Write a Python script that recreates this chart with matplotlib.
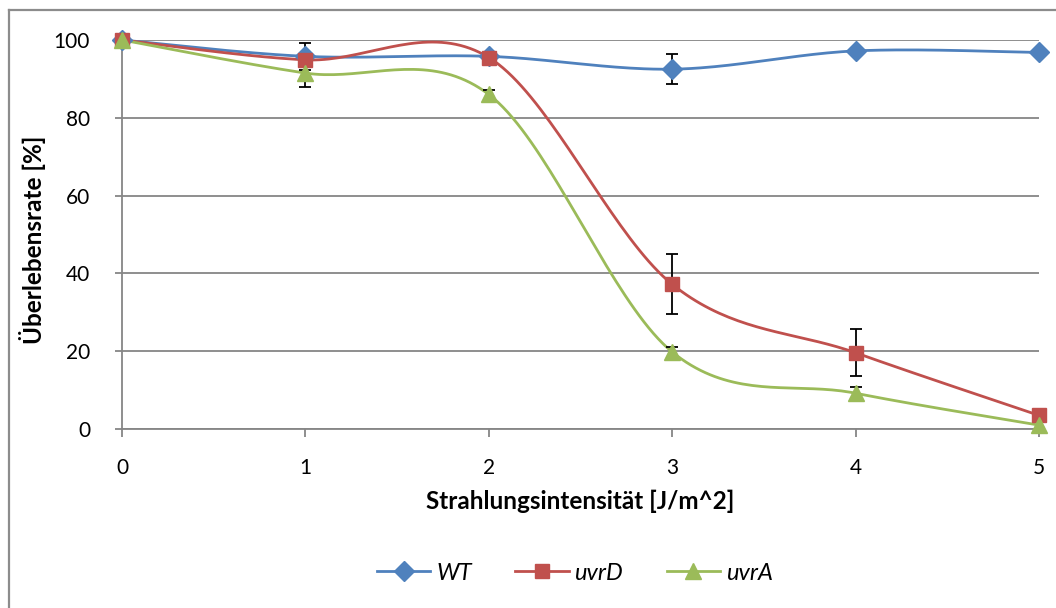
import numpy as np
import matplotlib
matplotlib.use("Agg")
import matplotlib.pyplot as plt
from matplotlib.lines import Line2D

plt.rcParams['font.family'] = ['Lato', 'DejaVu Sans']

# Data
dose = [0, 1, 2, 3, 4, 5]
wt = [100, 95.8, 95.8, 92.5, 97.2, 96.8]
wt_err = [0, 3.4, 0, 3.9, 0, 0]
uvrd = [100, 94.9, 95.5, 37.2, 19.6, 3.5]
uvrd_err = [0, 0, 0, 7.7, 6.0, 0]
uvra = [100, 91.5, 86.0, 19.8, 9.2, 1.0]
uvra_err = [0, 3.6, 1.2, 1.3, 1.7, 0]

series_names = ["WT", "uvrD", "uvrA"]
colors = ["#4F81BD", "#C0504D", "#9BBB59"]
markers = ["D", "s", "^"]
msizes = [10, 10.5, 11.5]

x_label = "Strahlungsintensität [J/m^2]"
y_label = "Überlebensrate [%]"


def smooth(xs, ys, n=40):
    """Catmull-Rom style Bezier smoothing through every point."""
    xs = np.asarray(xs, float)
    ys = np.asarray(ys, float)
    px = np.concatenate([[xs[0]], xs, [xs[-1]]])
    py = np.concatenate([[ys[0]], ys, [ys[-1]]])
    outx, outy = [], []
    t = np.linspace(0, 1, n)
    for i in range(1, len(px) - 2):
        p0 = np.array([px[i], py[i]])
        p3 = np.array([px[i + 1], py[i + 1]])
        c1 = p0 + (np.array([px[i + 1], py[i + 1]]) - np.array([px[i - 1], py[i - 1]])) / 6
        c2 = p3 - (np.array([px[i + 2], py[i + 2]]) - np.array([px[i], py[i]])) / 6
        b = ((1 - t) ** 3)[:, None] * p0 + (3 * (1 - t) ** 2 * t)[:, None] * c1 \
            + (3 * (1 - t) * t ** 2)[:, None] * c2 + (t ** 3)[:, None] * p3
        outx.extend(b[:, 0])
        outy.extend(b[:, 1])
    return np.array(outx), np.array(outy)


W, H = 1056, 608
fig = plt.figure(figsize=(W / 100, H / 100), dpi=100)
ax = fig.add_axes([122 / W, 1 - 429 / H, 917 / W, 389 / H])

grid_c = "#868686"
ax.set_xlim(0, 5)
ax.set_ylim(0, 100)
ax.set_yticks([0, 20, 40, 60, 80, 100])
ax.set_xticks(dose)
ax.yaxis.grid(True, color=grid_c, linewidth=1.3)
ax.set_axisbelow(True)
for s in ["top", "right"]:
    ax.spines[s].set_visible(False)
for s in ["left", "bottom"]:
    ax.spines[s].set_color(grid_c)
    ax.spines[s].set_linewidth(1.3)
ax.tick_params(axis="both", colors=grid_c, labelcolor="black", labelsize=15,
               direction="out", width=1.3)
ax.tick_params(axis="y", pad=18, length=5)
ax.tick_params(axis="x", pad=15, length=6)

all_vals = [wt, uvrd, uvra]
all_errs = [wt_err, uvrd_err, uvra_err]
handles = []
for name, vals, errs, c, m, ms in zip(series_names, all_vals, all_errs, colors, markers, msizes):
    sx, sy = smooth(dose, vals)
    ax.plot(sx, sy, color=c, linewidth=2, clip_on=False, zorder=3,
            solid_capstyle="round")
    idx = [i for i, e in enumerate(errs) if e > 0]
    ax.errorbar([dose[i] for i in idx], [vals[i] for i in idx],
                yerr=[errs[i] for i in idx], fmt="none", ecolor="black",
                elinewidth=1.3, capsize=4, capthick=1.3, zorder=4, clip_on=False)
    ax.plot(dose, vals, linestyle="none", marker=m, markersize=ms, color=c,
            markeredgecolor=c, clip_on=False, zorder=5)
    handles.append(Line2D([], [], color=c, linewidth=2, marker=m, markersize=ms,
                          markeredgecolor=c))

# Axis titles
fig.text(580 / W, 1 - 501 / H, x_label, fontsize=17.5, fontweight="bold",
         ha="center", va="center")
fig.text(33 / W, 1 - 240 / H, y_label, fontsize=17.5, fontweight="bold",
         ha="center", va="center", rotation=90)

leg = fig.legend(handles, series_names, loc="center", ncol=3, frameon=False,
                 bbox_to_anchor=(575 / W, 1 - 573 / H), handlelength=2.25,
                 columnspacing=1.85, handletextpad=0.25,
                 prop={"size": 17, "style": "italic"})

# Chart-area border (left and top edges)
fig.add_artist(Line2D([9 / W, 9 / W], [0, 1 - 10 / H], color="#8c8c8c",
                      linewidth=1.6, transform=fig.transFigure))
fig.add_artist(Line2D([9 / W, 1], [1 - 10 / H, 1 - 10 / H], color="#8c8c8c",
                      linewidth=1.6, transform=fig.transFigure))

fig.savefig("out.png", dpi=100)
